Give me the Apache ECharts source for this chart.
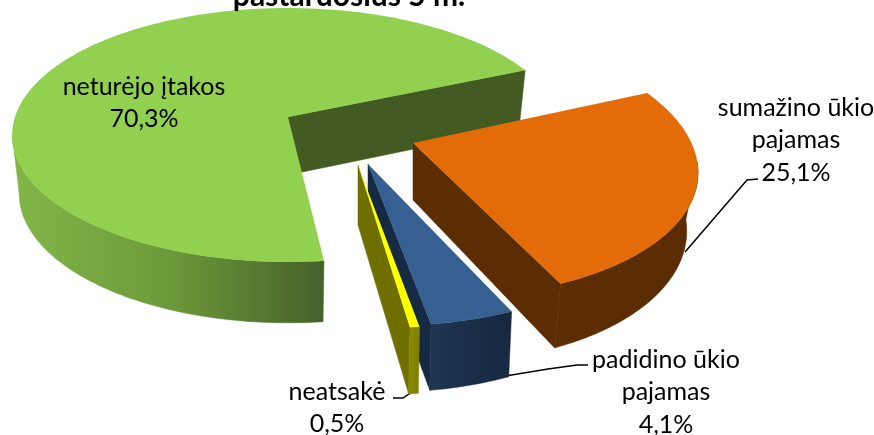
<!DOCTYPE html>
<html><head><meta charset="utf-8">
<style>html,body{margin:0;padding:0;background:#fff}#c{width:874px;height:435px}</style>
<script src="https://cdn.jsdelivr.net/npm/echarts@6/dist/echarts.min.js"></script>
</head><body><div id="c"></div>
<script>
const chartTitle = 'pastaruosius 5 m.';
const categories = ['neturėjo įtakos', 'sumažino ūkio\npajamas', 'padidino ūkio\npajamas', 'neatsakė'];
const values = [70.3, 25.1, 4.1, 0.5];
const topColors = ['#92D050', '#E36C09', '#376092', '#FFFF00'];
const endWallColors = ['#435A23', '#5C2C03', '#172A44', '#6F6F00'];
const outerWallStops = [['#83B648', '#6C9A3A', '#46602A'], ['#5C2C03', '#5C2C03', '#5C2C03'], ['#1F3650', '#1A2E48', '#172840'], ['#8A8A00', '#858500', '#7F7F00']];

// layout of the projected pie (no data here)
const startAngle = 173.5, A = 273, B = 124.4, P = 0.1417;
const geometry = [
  { x: 288, y: 117, sx: 1,    sy: 1,    k: 0,     sx2: .975, sy2: 1.02, d: 58 },
  { x: 413, y: 143, sx: 1.02, sy: 1.07, k: 0.157, sx2: .96,  sy2: 1.05, d: 57 },
  { x: 368, y: 164, sx: 1.06, sy: 1.12, k: 0.09,  sx2: .98,  sy2: 1.05, d: 58 },
  { x: 358, y: 165, sx: 1,    sy: 1.13, k: 0.097, sx2: .98,  sy2: 1.04, d: 60 }
];
const labelPos = [[144, 103], [796, 140], [666, 392], [337, 408]];
const leaders = [null, [[685, 252], [747, 180], [758, 179]], [[469, 382], [548, 369], [577, 365], [588, 365]], [[393, 398], [403, 398], [412, 392]]];

const total = values.reduce((a, b) => a + b, 0);
const starts = [];
values.reduce((acc, v, i) => { starts[i] = acc % 360; return acc + v / total * 360; }, startAngle);

function pt(theta, r, g, low) {
  const t = theta * Math.PI / 180, u = r * Math.sin(t), v = -Math.cos(t) * r;
  const w = 1 - P * v;
  let X = A * u / w * g.sx, Y = B * v / w * g.sy;
  X += g.k * Y;
  if (low) { X *= g.sx2; Y = Y * g.sy2 + g.d; }
  return [g.x + X, g.y + Y];
}
function arc(a0, a1, g, low) {
  const out = [], n = Math.max(2, Math.ceil(Math.abs(a1 - a0)));
  for (let i = 0; i <= n; i++) out.push(pt(a0 + (a1 - a0) * i / n, 1, g, low));
  return out;
}
function renderSlice(params, api) {
  const i = params.dataIndex, g = geometry[i];
  const a0 = starts[i], a1 = a0 + api.value(0) / total * 360;
  const apexT = pt(0, 0, g, false), apexB = pt(0, 0, g, true);
  const endT = pt(a1, 1, g, false), endB = pt(a1, 1, g, true);
  const children = [];
  // end wall
  children.push({ type: 'polygon', shape: { points: [apexT, endT, endB, apexB] }, style: { fill: endWallColors[i], stroke: endWallColors[i], lineWidth: 0.5 } });
  // outer wall: only the part between the two silhouette angles can be seen
  const s = Math.max(a0, 98), e = Math.min(a1, 262);
  if (e > s) {
    const top = arc(s, e, g, false), bot = arc(s, e, g, true).reverse();
    const c = outerWallStops[i];
    const fill = {
      type: 'linear', x: 1, y: 0, x2: 0, y2: 0,
      colorStops: [{ offset: 0, color: c[2] }, { offset: .5, color: c[1] }, { offset: 1, color: c[0] }]
    };
    children.push({ type: 'polygon', shape: { points: top.concat(bot) }, style: { fill: fill, stroke: fill, lineWidth: 0.5 } });
  }
  // top face
  children.push({ type: 'polygon', shape: { points: [apexT].concat(arc(a0, a1, g, false)) }, style: { fill: topColors[i] } });
  return { type: 'group', children };
}
function renderLeader(params, api) {
  const i = params.dataIndex;
  if (!leaders[i]) return { type: 'group', children: [] };
  return { type: 'polyline', shape: { points: leaders[i] }, style: { fill: null, stroke: '#000', lineWidth: 1.5 } };
}
function renderLabel(params, api) {
  const i = params.dataIndex;
  const txt = categories[i] + '\n' + values[i].toFixed(1).replace('.', ',') + '%';
  return { type: 'text', x: labelPos[i][0], y: labelPos[i][1], style: {
    text: txt, fill: '#000', font: '25px Lato', lineHeight: 32.5, align: 'center', verticalAlign: 'middle' } };
}
const chart = echarts.init(document.getElementById('c'), null, { renderer: 'canvas' });
const rows = values.map(v => [v]);
chart.setOption({
  animation: false,
  title: { text: chartTitle, left: 344, top: -24, textAlign: 'center', textStyle: { fontFamily: 'Lato', fontWeight: 'bold', fontSize: 30, color: '#000' } },
  series: [
    { type: 'custom', coordinateSystem: 'none', renderItem: renderLeader, data: rows, silent: true, z: 1 },
    { type: 'custom', coordinateSystem: 'none', renderItem: renderSlice, data: rows, silent: true, z: 2 },
    { type: 'custom', coordinateSystem: 'none', renderItem: renderLabel, data: rows, silent: true, z: 3 }
  ]
});
</script></body></html>
